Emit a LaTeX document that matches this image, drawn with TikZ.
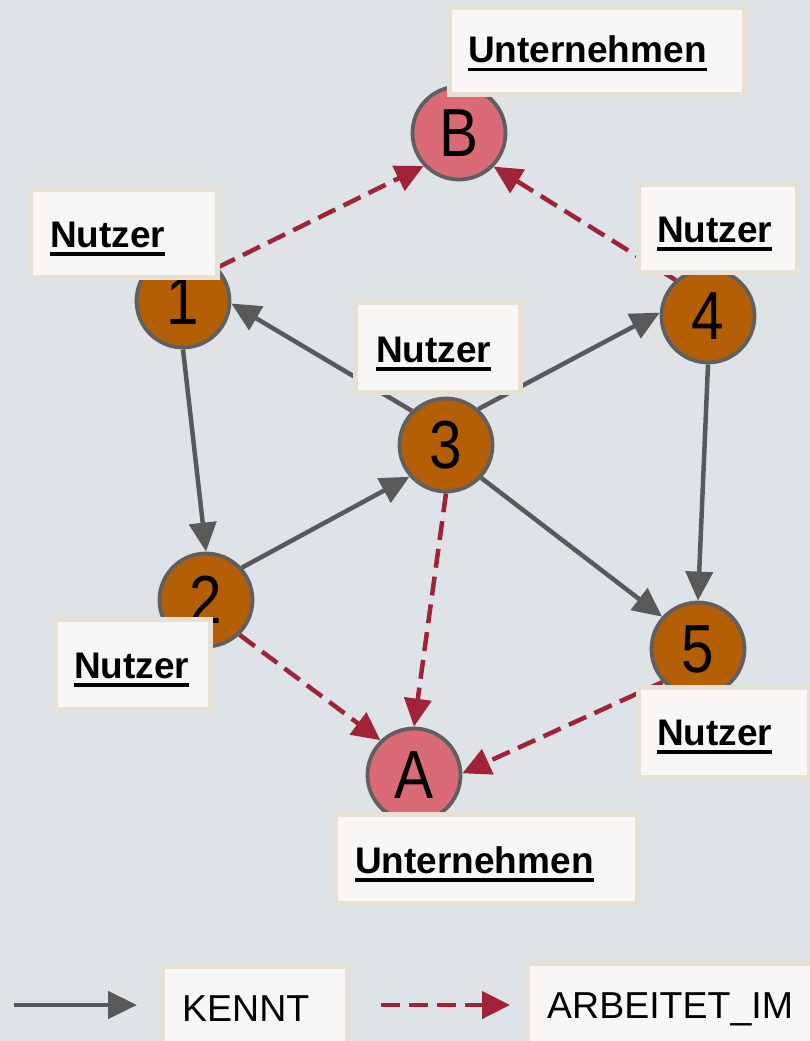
\documentclass[tikz,border=0pt]{standalone}
\usepackage{fontspec}
\setmainfont{Liberation Sans}
\newfontfamily\circfont[FakeStretch=0.86]{Liberation Sans}
\usetikzlibrary{arrows.meta}

\definecolor{bgcol}{HTML}{DDE3E6}
\definecolor{usercol}{HTML}{B45F06}
\definecolor{firmcol}{HTML}{DA6B76}
\definecolor{ringcol}{HTML}{5F5F5F}
\definecolor{edgegray}{HTML}{595959}
\definecolor{dashred}{HTML}{A12337}
\definecolor{boxfill}{HTML}{F8F7F5}
\definecolor{boxedge}{HTML}{E6E0D5}

% bold text with a heavy rule underneath
\newcommand\barunder[1]{\setbox0=\hbox{#1}\rlap{\rule[-8.5pt]{\wd0}{3.5pt}}\box0}

\begin{document}
\begin{tikzpicture}[x=1pt,y=-1pt,
  user/.style={circle, fill=usercol, draw=ringcol, line width=3.8pt,
    minimum size=93pt, inner sep=0pt, font=\circfont\fontsize{68}{68}\selectfont},
  firm/.style={user, fill=firmcol},
  knows/.style={draw=edgegray, line width=4.5pt, -{Triangle[length=29pt,width=27pt]}},
  worksat/.style={draw=dashred, line width=4.5pt, dash pattern=on 19pt off 9pt,
    -{Triangle[length=28pt,width=27pt]}},
  tagbox/.style={draw=boxedge, fill=boxfill, line width=5pt, anchor=north west, inner sep=0pt},
  tagtext/.style={anchor=base west, inner sep=0pt, font=\bfseries\fontsize{37}{40}\selectfont},
  legtext/.style={anchor=base west, inner sep=0pt, font=\fontsize{37.5}{40}\selectfont}]

\useasboundingbox[fill=bgcol] (0,0) rectangle (810,1041);

% entities
\node[firm] (B) at (459,133) {B};
\node[firm] (A) at (414,775) {A};
\node[user] (n1) at (183,301) {1};
\node[user] (n2) at (206,600) {2};
\node[user] (n3) at (446,445) {3};
\node[user] (n4) at (708,316) {4};
\node[user] (n5) at (698,649) {5};

% KENNT relations
\draw[knows] (n1.-90) -- (n2.90);
\draw[knows] (n2.42) -- (n3.221);
\draw[knows] (n3.135) -- (n1.-3);
\draw[knows] (n3.48) -- (n4.176);
\draw[knows] (n3.-43) -- (n5.138);
\draw[knows] (n4.-90) -- (n5.90);

% ARBEITET_IM relations
\draw[worksat] (n1.44) -- (B.223);
\draw[worksat] (n4.132) -- (B.-44);
\draw[worksat] (n3.-90) -- (A.90);
\draw[worksat] (n2.-46) -- (A.134);
\draw[worksat] (n5.223) -- (A.2);

% type labels
\node[tagbox, minimum width=295pt, minimum height=87pt] (tB) at (447,5) {};
\node[tagtext] (tBtxt) at (468,63) {\barunder{Unternehmen}};
\node[tagbox, minimum width=187pt, minimum height=88pt] (t1) at (28,187) {};
\node[tagtext] (t1txt) at (50,247) {\barunder{Nutzer}};
\node[tagbox, minimum width=165pt, minimum height=90pt] (t3) at (353,300) {};
\node[tagtext] (t3txt) at (376,362) {\barunder{Nutzer}};
\node[tagbox, minimum width=159pt, minimum height=88pt] (t4) at (636,182) {};
\node[tagtext] (t4txt) at (657,242) {\barunder{Nutzer}};
\node[tagbox, minimum width=155pt, minimum height=90pt] (t2) at (53,617) {};
\node[tagtext] (t2txt) at (74,678) {\barunder{Nutzer}};
\node[tagbox, minimum width=171pt, minimum height=90pt] (t5) at (636,685) {};
\node[tagtext] (t5txt) at (657,745) {\barunder{Nutzer}};
\node[tagbox, minimum width=302pt, minimum height=89pt] (tA) at (333,812) {};
\node[tagtext] (tAtxt) at (355,873) {\barunder{Unternehmen}};

% legend
\coordinate (k0) at (14,1005);
\coordinate (k1) at (137,1005);
\draw[knows] (k0) -- (k1);
\node[tagbox, minimum width=185pt, minimum height=80pt] (lk) at (160,964) {};
\node[legtext] (lktxt) at (182,1021) {KENNT};
\coordinate (w0) at (381,1005);
\coordinate (w1) at (510,1005);
\draw[worksat] (w0) -- (w1);
\node[tagbox, minimum width=285pt, minimum height=80pt] (lw) at (525,961) {};
\node[legtext] (lwtxt) at (547,1018) {ARBEITET\_IM};
\end{tikzpicture}
\end{document}
